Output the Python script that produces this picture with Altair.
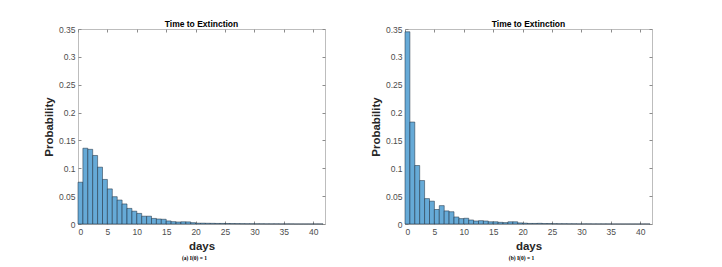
import altair as alt
import pandas as pd

BIN_WIDTH = 5 / 6  # histogram bin width (days)

# Probability per bin, panel (a) I(0)=1
prob_a = [0.075, 0.136, 0.134, 0.123, 0.102, 0.080, 0.063, 0.049, 0.043, 0.036,
          0.028, 0.023, 0.019, 0.014, 0.014, 0.010, 0.009, 0.0085, 0.0055, 0.0042,
          0.0036, 0.004, 0.0038, 0.0024, 0.0015, 0.0015, 0.0013, 0.0012, 0.001, 0.001,
          0.0009, 0.0008, 0.0007, 0.0006, 0.0005, 0.0005, 0.0004, 0.0004, 0.0003, 0.0003,
          0.0003, 0.0002, 0.0002, 0.0002, 0.0001, 0.0001, 0.0001, 0.0001, 0.0001, 0.0001]

# Probability per bin, panel (b)
prob_b = [0.345, 0.183, 0.105, 0.078, 0.0456, 0.041, 0.026, 0.033, 0.0235, 0.022,
          0.0126, 0.0097, 0.0103, 0.0072, 0.0054, 0.006, 0.0054, 0.004, 0.004, 0.003,
          0.0025, 0.004, 0.004, 0.002, 0.0015, 0.001, 0.001, 0.0012, 0.0008, 0.0008,
          0.0006, 0.0005, 0.0005, 0.0004, 0.0004, 0.0003, 0.0003, 0.0003, 0.0002, 0.0002,
          0.0002, 0.0002, 0.0001, 0.0001, 0.0001, 0.0001, 0.0001, 0.0001, 0.0001, 0.0001]

x_ticks = [0, 5, 10, 15, 20, 25, 30, 35, 40]
y_ticks = [0, 0.05, 0.1, 0.15, 0.2, 0.25, 0.3, 0.35]
panel_title = "Time to Extinction"
x_title = "days"
y_title = "Probability"
captions = ["(a) I(0) = 1", "(b) I(0) = 1"]

W, H = 247, 195
FONT = "Liberation Sans"
FILL = "#66aad7"
TICK_IN = {"expr": "-3"}


def panel(probs, caption):
    df = pd.DataFrame({
        "start": [i * BIN_WIDTH for i in range(len(probs))],
        "end": [(i + 1) * BIN_WIDTH for i in range(len(probs))],
        "p": probs,
        "base": [0.0] * len(probs),
    })
    xs = alt.Scale(domain=[0, 42], nice=False, zero=False)
    ys = alt.Scale(domain=[0, 0.35], nice=False)
    base = alt.Chart(df)
    bars = base.mark_rect(fill=FILL, stroke="#1a2a3a", strokeWidth=0.6,
                          strokeOpacity=0.85).encode(
        x=alt.X("start:Q", scale=xs,
                axis=alt.Axis(values=x_ticks, title=x_title, tickSize=TICK_IN,
                              labelPadding=6, titlePadding=5, format="d")),
        x2="end:Q",
        y=alt.Y("p:Q", scale=ys,
                axis=alt.Axis(values=y_ticks, title=y_title, tickSize=TICK_IN,
                              labelPadding=6, titlePadding=4,
                              labelExpr="toString(round(datum.value*100)/100)")),
        y2="base:Q",
    )
    mirror = base.mark_rect(opacity=0).encode(
        x=alt.X("start:Q", scale=xs,
                axis=alt.Axis(orient="top", values=x_ticks, labels=False, title=None,
                              tickSize=TICK_IN)),
        x2="end:Q",
        y=alt.Y("p:Q", scale=ys,
                axis=alt.Axis(orient="right", values=y_ticks, labels=False, title=None,
                              tickSize=TICK_IN)),
        y2="base:Q",
    )
    cap = alt.Chart(pd.DataFrame({"t": [caption]})).mark_text(
        font="Liberation Serif", fontSize=5.5, fontWeight="bold", color="black",
        baseline="middle", align="center",
    ).encode(text="t:N", x=alt.value(W / 2 - 7), y=alt.value(H + 34))
    return alt.layer(bars, mirror, cap).resolve_axis(
        x="independent", y="independent"
    ).properties(
        width=W, height=H,
        title=alt.TitleParams(panel_title, fontSize=8.5, fontWeight="bold", font=FONT,
                              color="black", offset=-3),
    )


chart = alt.hconcat(panel(prob_a, captions[0]), panel(prob_b, captions[1]),
                    spacing=43).properties(
    padding={"left": 34, "top": 11, "right": 5, "bottom": 5},
    background="white",
).configure_view(
    stroke="#bdbdbd", strokeWidth=1
).configure_axis(
    grid=False, domain=False, labelFont=FONT, labelFontSize=8.5,
    labelColor="#4d4d4d", titleFont=FONT, titleFontSize=11.5,
    titleFontWeight="bold", titleColor="#262626", tickColor="#8c8c8c",
)

chart.save("out.html", embed_options={"renderer": "svg", "actions": False})
